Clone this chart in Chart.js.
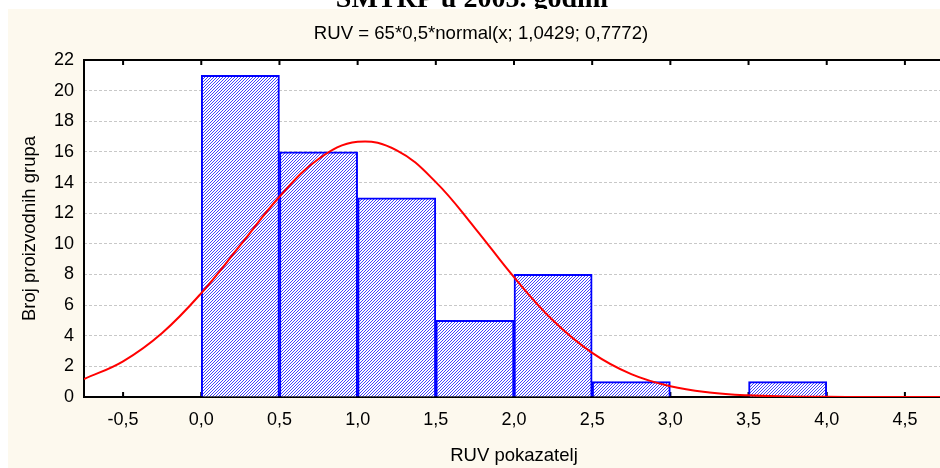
<!DOCTYPE html>
<html>
<head>
<meta charset="utf-8">
<script src="https://cdn.jsdelivr.net/npm/chart.js@4"></script>
<style>
html, body { margin: 0; padding: 0; background: #fff; overflow: hidden; }
#wrap { position: relative; width: 944px; height: 468px; }
</style>
</head>
<body>
<div id="wrap"><canvas id="histChart"></canvas></div>
<script>
// histogram bins (RUV pokazatelj) and number of groups in each
const binEdges = [0, 0.5, 1, 1.5, 2, 2.5, 3, 3.5, 4];
const groupCounts = [21, 16, 13, 5, 8, 1, 0, 1];

// fitted normal curve
const curveX = [-0.75, -0.5, -0.25, 0, 0.25, 0.5, 0.75, 1, 1.25, 1.5, 1.75, 2, 2.25, 2.5, 2.75, 3, 3.25, 3.5, 3.75, 4, 4.25, 4.5, 4.75];
const curveY = [1.17, 2.33, 4.18, 6.78, 9.91, 13.07, 15.54, 16.66, 16.10, 14.03, 11.03, 7.82, 4.99, 2.88, 1.49, 0.70, 0.30, 0.11, 0.04, 0.01, 0, 0, 0];

const xTickValues = [-0.5, 0, 0.5, 1, 1.5, 2, 2.5, 3, 3.5, 4, 4.5];
const xTickLabels = ['-0,5', '0,0', '0,5', '1,0', '1,5', '2,0', '2,5', '3,0', '3,5', '4,0', '4,5'];
const yTickValues = [0, 2, 4, 6, 8, 10, 12, 14, 16, 18, 20, 22];
const yTickLabels = ['0', '2', '4', '6', '8', '10', '12', '14', '16', '18', '20', '22'];

Chart.defaults.font.family = '"Liberation Sans", Arial, sans-serif';
Chart.defaults.font.size = 18;
Chart.defaults.color = '#000';

const ctx = document.getElementById('histChart').getContext('2d');

// blue diagonal hatching for the bars
const tile = document.createElement('canvas');
tile.width = 3;
tile.height = 3;
const tc = tile.getContext('2d');
tc.fillStyle = '#ffffff';
tc.fillRect(0, 0, 3, 3);
tc.fillStyle = '#4444ff';
for (let i = 0; i < 3; i++) tc.fillRect(i, 2 - i, 1, 1);
const hatch = ctx.createPattern(tile, 'repeat');

const backdrop = {
	id: 'backdrop',
	beforeDraw(chart) {
		const c = chart.ctx, a = chart.chartArea;
		c.save();
		c.fillStyle = '#fff';
		c.fillRect(0, 0, chart.width, chart.height);
		c.fillStyle = '#000';
		c.font = 'bold 28px "Liberation Serif", "Times New Roman", serif';
		c.textAlign = 'center';
		c.textBaseline = 'alphabetic';
		c.fillText('SMTRP u 2005. godini', 472, 7);
		c.fillStyle = '#fdf9ee';
		c.fillRect(8, 9, chart.width - 8, chart.height - 9);
		c.fillStyle = '#fff';
		c.fillRect(a.left, a.top, a.right - a.left, a.bottom - a.top);
		c.fillStyle = '#000';
		c.font = '18.6px "Liberation Sans", Arial, sans-serif';
		c.textBaseline = 'middle';
		c.fillText('RUV = 65*0,5*normal(x; 1,0429; 0,7772)', 481, 34);
		c.restore();
	},
	beforeDatasetsDraw(chart) {
		const c = chart.ctx, a = chart.chartArea, xs = chart.scales.x;
		c.save();
		c.strokeStyle = '#000';
		c.lineWidth = 2;
		c.beginPath();
		c.moveTo(a.right, a.top);
		c.lineTo(a.left, a.top);
		c.lineTo(a.left, a.bottom);
		c.lineTo(a.right, a.bottom);
		xTickValues.forEach(v => {
			const px = xs.getPixelForValue(v);
			c.moveTo(px, a.top);
			c.lineTo(px, a.top + 5);
			c.moveTo(px, a.bottom);
			c.lineTo(px, a.bottom - 5);
		});
		c.stroke();
		c.restore();
	}
};

new Chart(ctx, {
	type: 'bar',
	data: {
		datasets: [{
			type: 'line',
			data: curveX.map((x, i) => ({ x: x, y: curveY[i] })),
			borderColor: '#ff0000',
			borderWidth: 2,
			pointRadius: 0,
			tension: 0.4,
			order: 0
		}, {
			type: 'bar',
			data: groupCounts.map((n, i) => ({ x: (binEdges[i] + binEdges[i + 1]) / 2, y: n })),
			backgroundColor: hatch,
			borderColor: '#0000ff',
			borderWidth: 2,
			barPercentage: 1,
			categoryPercentage: 1,
			order: 1
		}]
	},
	options: {
		responsive: true,
		maintainAspectRatio: false,
		animation: false,
		layout: { padding: { top: 60, left: 0, right: 0, bottom: 0 } },
		plugins: { legend: { display: false }, tooltip: { enabled: false } },
		scales: {
			x: {
				type: 'linear',
				min: -0.75,
				max: 4.75,
				offset: false,
				grid: { display: false, offset: false },
				border: { display: false },
				afterBuildTicks: s => { s.ticks = xTickValues.map(v => ({ value: v })); },
				afterFit: s => { s.height = 71; },
				ticks: {
					padding: 4,
					autoSkip: false,
					maxRotation: 0,
					callback: (v, i) => xTickLabels[i]
				},
				title: { display: true, text: 'RUV pokazatelj', font: { size: 18.5 }, padding: { top: 1, bottom: 1 } }
			},
			y: {
				min: 0,
				max: 22,
				grid: { color: '#c8c8c8', drawTicks: false },
				border: { display: false, dash: [3, 2] },
				afterBuildTicks: s => { s.ticks = yTickValues.map(v => ({ value: v })); },
				afterFit: s => { s.width = 84; },
				ticks: {
					padding: 10,
					callback: (v, i) => yTickLabels[i]
				},
				title: { display: true, text: 'Broj proizvodnih grupa', font: { size: 18.5 }, padding: { top: 19, bottom: 19 } }
			}
		}
	},
	plugins: [backdrop]
});
</script>
</body>
</html>
